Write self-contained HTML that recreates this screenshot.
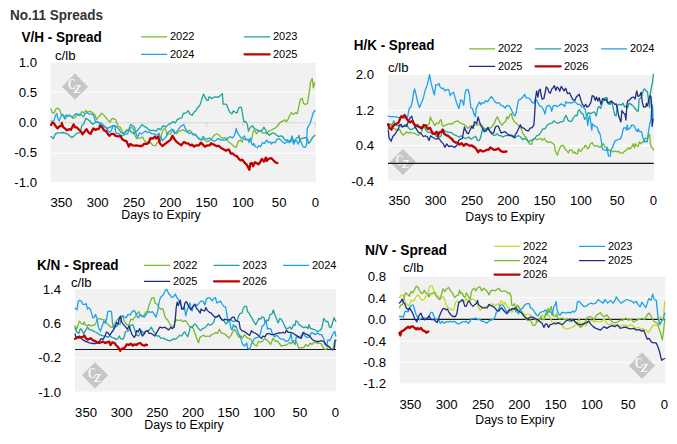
<!DOCTYPE html>
<html><head><meta charset="utf-8"><title>No.11 Spreads</title>
<style>
html,body{margin:0;padding:0;background:#fff;}
body{width:677px;height:444px;overflow:hidden;font-family:"Liberation Sans",sans-serif;}
svg{display:block;}
text{font-family:"Liberation Sans",sans-serif;fill:#000;}
.t{font-size:14px;font-weight:bold;}
.a{font-size:13.2px;}
.l{font-size:11px;}
.ln{fill:none;stroke-linejoin:round;stroke-linecap:round;}
</style></head><body>
<svg width="677" height="444" viewBox="0 0 677 444">
<rect width="677" height="444" fill="#fff"/>
<text x="10" y="19.7" textLength="93" lengthAdjust="spacingAndGlyphs" style="font-size:14px;font-weight:bold;fill:#333">No.11 Spreads</text>

<!-- vh -->
<rect x="50.7" y="63" width="265.0" height="119" fill="#f1f1f1"/>
<line x1="50.7" x2="315.7" y1="92.3" y2="92.3" stroke="#fff" stroke-width="1.1"/>
<line x1="50.7" x2="315.7" y1="153.3" y2="153.3" stroke="#fff" stroke-width="1.1"/>
<line x1="50.7" x2="315.7" y1="122.8" y2="122.8" stroke="#d6d6d6" stroke-width="1.1"/>
<line x1="315.5" x2="315.5" y1="122.8" y2="127.3" stroke="#d6d6d6" stroke-width="1.1"/>
<line x1="279.2" x2="279.2" y1="122.8" y2="127.3" stroke="#d6d6d6" stroke-width="1.1"/>
<line x1="242.9" x2="242.9" y1="122.8" y2="127.3" stroke="#d6d6d6" stroke-width="1.1"/>
<line x1="206.6" x2="206.6" y1="122.8" y2="127.3" stroke="#d6d6d6" stroke-width="1.1"/>
<line x1="170.3" x2="170.3" y1="122.8" y2="127.3" stroke="#d6d6d6" stroke-width="1.1"/>
<line x1="134.0" x2="134.0" y1="122.8" y2="127.3" stroke="#d6d6d6" stroke-width="1.1"/>
<line x1="97.7" x2="97.7" y1="122.8" y2="127.3" stroke="#d6d6d6" stroke-width="1.1"/>
<line x1="61.4" x2="61.4" y1="122.8" y2="127.3" stroke="#d6d6d6" stroke-width="1.1"/>
<g><polygon points="75,73.60000000000001 88.1,86.7 75,99.8 61.9,86.7" fill="#c6c6c6"/><text x="71.7" y="89.2" text-anchor="middle" style="font-family:'Liberation Serif',serif;font-size:15px;font-weight:bold;fill:#fafafa" textLength="7.6" lengthAdjust="spacingAndGlyphs">C</text><text x="77.6" y="93.10000000000001" text-anchor="middle" style="font-family:'Liberation Serif',serif;font-size:11.5px;font-style:italic;font-weight:bold;fill:#fafafa">Z</text></g>
<polyline class="ln" stroke="#7ab929" stroke-width="1.3" points="51.0,108.8 52.1,112.6 54.1,113.1 56.1,108.8 57.7,108.0 59.5,109.5 61.2,114.2 62.9,115.6 64.9,118.9 66.9,116.9 68.9,114.9 71.0,116.2 73.0,118.3 75.0,117.6 77.1,114.9 79.8,115.6 81.8,111.5 83.8,112.9 85.8,110.4 87.9,112.2 90.2,111.2 92.6,112.9 94.6,114.2 96.6,119.6 99.4,116.2 101.6,113.1 103.4,114.9 105.4,116.9 108.1,120.3 110.2,122.3 111.5,118.9 113.5,118.5 115.6,119.6 116.9,123.0 118.3,126.6 120.3,127.1 122.3,131.8 123.7,133.4 125.7,131.1 127.1,129.8 129.1,130.4 131.1,127.1 133.1,128.4 134.5,134.5 136.5,138.5 137.4,138.5 140.1,137.9 142.8,137.2 144.8,141.2 146.8,142.6 148.9,141.2 150.9,143.3 152.9,145.3 155.6,145.6 157.6,141.9 160.4,141.2 161.7,133.8 163.1,129.8 165.1,128.4 166.4,131.8 167.1,135.2 168.5,133.8 170.5,133.8 172.5,130.4 174.5,132.5 176.6,133.8 179.3,131.1 181.3,130.4 183.3,129.8 185.4,131.1 187.4,132.5 188.7,130.2 190.8,131.1 192.8,134.5 194.8,133.8 196.8,136.5 198.9,139.2 201.6,139.9 204.3,139.2 207.0,141.9 209.0,140.6 211.0,139.9 213.1,136.5 215.1,134.5 217.1,133.8 219.1,135.2 221.2,137.9 226.1,138.0 228.1,141.4 230.8,143.4 233.5,146.1 236.2,147.4 238.2,141.4 240.3,140.0 242.3,142.0 243.6,138.6 245.7,140.0 247.7,139.3 249.7,140.7 251.8,139.3 253.1,131.9 254.5,129.9 256.5,133.9 258.5,131.2 260.5,130.5 262.6,133.2 264.6,132.6 266.6,133.9 268.6,131.2 270.7,130.5 272.7,129.2 274.7,128.5 276.8,126.5 278.8,123.8 280.8,121.8 282.8,121.1 284.9,119.7 286.2,121.8 287.6,120.4 288.9,117.0 290.0,115.0 291.3,112.6 293.3,114.6 295.3,112.6 297.4,113.6 298.4,108.5 300.4,99.4 302.4,98.4 303.4,103.4 305.5,104.5 307.5,103.4 308.5,96.4 309.5,90.3 310.5,82.2 312.2,78.5 313.4,87.8 314.6,82.6"/>
<polyline class="ln" stroke="#1ba39c" stroke-width="1.3" points="51.0,136.5 53.4,138.5 55.4,133.8 57.5,132.9 60.2,132.9 62.9,132.5 65.6,133.1 68.3,134.5 70.3,136.5 72.1,137.6 74.4,135.8 76.4,133.4 79.1,132.9 80.4,131.8 81.8,125.7 83.8,123.7 85.8,118.3 87.9,119.6 89.9,121.0 92.6,124.4 94.6,123.0 96.6,121.6 98.7,122.3 100.7,125.0 103.4,125.0 105.4,127.1 107.5,128.4 110.2,127.1 112.9,125.7 114.9,125.7 116.9,127.1 118.9,129.1 121.0,132.5 123.0,133.8 125.0,132.5 127.1,130.4 129.1,129.8 131.1,131.8 133.8,133.8 135.8,131.8 137.4,130.4 140.1,127.1 142.1,124.4 144.1,126.4 146.8,127.7 148.9,129.8 150.9,130.4 153.6,130.4 156.3,131.1 158.3,128.4 160.4,129.8 163.1,125.7 165.8,127.1 168.5,124.4 171.2,123.0 173.2,121.6 175.2,123.0 177.2,119.6 179.9,118.3 182.0,117.6 183.3,113.5 186.0,112.9 188.1,110.8 190.1,114.2 192.1,115.3 194.1,112.2 196.2,110.2 197.5,107.5 199.5,106.1 200.9,102.1 202.2,98.0 203.5,94.1 204.9,96.8 206.9,100.4 208.2,100.4 208.9,96.8 210.3,97.4 211.6,98.8 213.6,97.4 215.7,96.8 217.7,97.4 219.7,96.1 221.8,94.1 222.4,93.6 223.1,104.2 225.8,104.2 226.8,104.9 228.5,109.6 229.9,112.3 231.9,113.9 233.2,110.9 235.3,112.3 237.0,113.0 238.6,108.2 240.0,107.2 241.4,107.6 242.7,115.0 243.8,121.8 245.7,121.5 247.4,124.5 248.4,131.2 250.4,127.2 252.4,125.8 254.5,128.5 257.2,129.9 259.2,131.2 261.9,130.5 263.9,127.2 265.9,130.5 267.3,133.2 269.3,135.3 272.0,133.2 274.1,133.2 276.8,135.3 278.8,136.6 280.8,135.9 282.8,136.6 284.9,140.0 287.6,140.0 289.6,141.4 291.6,138.6 292.3,136.6 293.6,144.1 295.0,141.4 296.4,138.0 298.4,137.3 299.1,135.3 299.7,142.0 301.1,138.6 303.8,138.0 306.5,137.3 307.8,140.0 308.5,143.4 310.0,142.0 310.5,140.9 313.0,136.9 315.0,135.3"/>
<polyline class="ln" stroke="#1aa3e8" stroke-width="1.3" points="51.0,121.0 52.7,121.6 54.1,120.3 55.4,115.6 56.8,113.5 57.7,118.3 59.1,121.0 60.4,117.6 62.2,114.2 63.9,115.6 64.9,118.9 66.2,114.9 68.3,116.2 70.3,115.6 72.3,117.6 74.4,114.9 76.4,113.5 78.4,114.9 79.8,114.2 81.5,114.9 83.4,116.9 85.2,113.5 87.2,112.6 89.2,114.2 91.2,114.2 93.3,114.9 94.6,118.3 95.6,122.3 97.3,121.6 99.4,123.0 101.4,123.0 103.4,126.4 105.4,127.1 107.5,129.8 109.5,132.5 111.5,130.4 112.9,125.7 114.9,126.4 115.6,131.8 116.9,133.8 118.3,133.1 119.6,134.5 121.6,135.8 123.7,135.2 125.7,133.8 127.7,133.8 129.1,128.4 130.7,124.4 132.5,125.7 134.5,127.1 135.8,133.1 137.4,137.2 139.4,133.1 141.4,133.8 143.5,132.5 145.5,131.1 147.5,132.5 149.5,131.8 151.6,133.8 153.6,133.8 155.6,134.5 157.6,135.2 159.0,133.1 160.4,137.2 162.4,140.6 164.4,138.5 166.4,136.5 167.8,132.5 169.8,131.1 171.8,129.1 173.9,130.4 174.5,133.8 176.6,131.8 178.6,129.1 180.6,126.4 182.0,125.7 183.7,124.4 185.4,128.4 187.4,131.8 189.4,133.8 191.4,132.5 193.5,135.2 195.5,134.5 197.5,137.2 200.2,139.2 201.6,139.9 202.9,136.5 204.9,138.5 207.0,139.2 209.7,137.9 211.7,139.9 213.7,141.2 215.8,140.6 217.8,138.5 220.5,139.9 226.1,140.0 228.1,138.0 230.1,136.6 232.2,138.0 234.2,135.9 235.5,131.9 236.2,128.5 237.6,133.2 239.6,135.9 241.6,138.6 244.3,135.9 246.4,140.0 248.4,139.3 249.1,142.7 250.4,138.0 251.8,144.1 253.1,145.4 253.8,143.4 255.4,146.8 257.2,147.8 259.2,145.4 260.5,146.8 262.6,142.7 264.6,143.4 266.6,140.0 268.6,142.7 270.7,142.0 271.4,144.1 273.4,142.0 275.4,142.7 276.8,139.3 278.8,138.6 280.8,140.0 282.8,142.0 284.9,143.4 286.9,141.4 288.9,142.7 290.9,141.4 291.9,135.9 293.0,142.0 295.0,140.0 297.0,141.4 298.1,144.1 299.7,140.7 301.1,142.0 303.1,146.8 305.1,147.4 306.5,145.4 307.2,128.5 308.5,125.8 310.0,123.8 311.6,118.6 313.2,112.6 315.0,110.5"/>
<polyline class="ln" stroke="#c00000" stroke-width="2.3" points="51.0,125.0 52.1,123.0 53.7,123.0 55.4,125.7 57.5,128.4 59.5,126.4 61.5,125.7 61.8,123.0 63.1,127.1 64.9,128.4 66.9,130.4 68.9,129.1 71.0,129.8 72.3,127.1 73.7,124.4 75.0,127.1 77.1,127.7 79.1,129.8 81.1,131.8 82.5,134.2 84.5,131.8 86.5,129.1 88.5,132.5 90.6,133.8 91.9,131.1 93.3,128.4 95.3,129.8 97.3,129.1 99.1,128.8 100.0,125.7 102.1,127.1 104.1,130.4 106.1,131.1 108.1,134.5 109.5,135.8 111.5,133.8 113.5,133.8 115.6,135.8 118.3,136.5 120.3,135.8 122.3,139.2 124.4,140.6 126.4,141.2 127.7,143.9 128.8,146.6 130.4,143.9 132.5,145.3 134.5,145.6 136.7,145.3 139.4,146.0 142.1,146.0 144.1,143.9 146.8,143.9 148.9,142.6 150.2,138.5 152.9,138.5 154.9,136.5 156.3,138.5 158.3,136.5 159.7,143.3 162.4,146.0 165.1,143.9 167.8,141.9 170.5,139.9 172.5,135.8 174.5,139.2 176.6,141.9 179.3,143.9 181.3,145.3 184.0,141.9 186.0,143.3 188.1,143.3 190.1,145.3 192.1,144.6 194.1,146.6 196.2,145.3 198.9,145.3 200.9,142.6 202.9,144.6 204.9,146.6 207.6,145.3 209.7,145.3 211.0,143.3 213.7,144.6 216.4,146.0 219.1,146.0 221.2,148.0 226.1,150.8 226.8,150.1 228.8,149.5 230.8,153.5 232.8,153.5 234.9,155.5 236.9,156.2 238.9,158.9 240.3,160.3 242.3,159.6 244.3,162.3 246.4,164.3 247.7,166.4 249.3,169.7 250.4,163.6 251.8,163.0 253.1,166.4 254.9,162.3 256.5,163.0 258.5,164.3 260.5,161.6 261.9,158.9 263.9,161.6 265.9,157.6 266.6,160.9 268.6,158.9 271.4,158.2 273.4,160.3 275.4,162.3 277.4,163.0"/>
<text class="a" x="37" y="66.5" text-anchor="end">1.0</text>
<text class="a" x="37" y="96.5" text-anchor="end">0.5</text>
<text class="a" x="37" y="126.5" text-anchor="end">0.0</text>
<text class="a" x="37" y="156.5" text-anchor="end">-0.5</text>
<text class="a" x="37" y="186.5" text-anchor="end">-1.0</text>
<text class="a" x="315.5" y="207" text-anchor="middle">0</text>
<text class="a" x="279.2" y="207" text-anchor="middle">50</text>
<text class="a" x="242.9" y="207" text-anchor="middle">100</text>
<text class="a" x="206.6" y="207" text-anchor="middle">150</text>
<text class="a" x="170.3" y="207" text-anchor="middle">200</text>
<text class="a" x="134.0" y="207" text-anchor="middle">250</text>
<text class="a" x="97.7" y="207" text-anchor="middle">300</text>
<text class="a" x="61.4" y="207" text-anchor="middle">350</text>
<text class="l" x="161" y="219" text-anchor="middle" style="font-size:12.3px">Days to Expiry</text>
<text class="t" x="21.4" y="42" textLength="80.4" lengthAdjust="spacingAndGlyphs">V/H - Spread</text>
<text class="a" x="55" y="59.5">c/lb</text>
<line x1="141.5" x2="166.7" y1="36.8" y2="36.8" stroke="#7ab929" stroke-width="1.35" stroke-linecap="round"/>
<text class="l" x="170" y="40.0">2022</text>
<line x1="244.5" x2="269.7" y1="36.8" y2="36.8" stroke="#1ba39c" stroke-width="1.35" stroke-linecap="round"/>
<text class="l" x="273" y="40.0">2023</text>
<line x1="141.5" x2="166.7" y1="54.3" y2="54.3" stroke="#1aa3e8" stroke-width="1.35" stroke-linecap="round"/>
<text class="l" x="170" y="57.5">2024</text>
<line x1="244.5" x2="269.7" y1="54.3" y2="54.3" stroke="#c00000" stroke-width="2.2" stroke-linecap="round"/>
<text class="l" x="273" y="57.5">2025</text>
<!-- hk -->
<rect x="388" y="75" width="265.79999999999995" height="105.69999999999999" fill="#f1f1f1"/>
<line x1="388" x2="653.8" y1="110.2" y2="110.2" stroke="#fff" stroke-width="1.1"/>
<line x1="388" x2="653.8" y1="145.5" y2="145.5" stroke="#fff" stroke-width="1.1"/>
<g><polygon points="402.9,148.9 416.0,162 402.9,175.1 389.79999999999995,162" fill="#c6c6c6"/><text x="399.59999999999997" y="164.5" text-anchor="middle" style="font-family:'Liberation Serif',serif;font-size:15px;font-weight:bold;fill:#fafafa" textLength="7.6" lengthAdjust="spacingAndGlyphs">C</text><text x="405.5" y="168.4" text-anchor="middle" style="font-family:'Liberation Serif',serif;font-size:11.5px;font-style:italic;font-weight:bold;fill:#fafafa">Z</text></g>
<line x1="388" x2="653.8" y1="163.4" y2="163.4" stroke="#1a1a1a" stroke-width="1.2"/>
<polyline class="ln" stroke="#7ab929" stroke-width="1.3" points="388.0,124.3 389.4,123.6 391.4,126.4 394.1,128.4 396.1,129.7 398.2,129.1 400.2,130.4 401.5,133.1 402.9,135.1 404.9,133.8 406.3,131.8 408.3,133.1 410.3,132.4 412.4,133.1 414.4,133.1 416.4,134.5 418.4,135.4 419.8,133.8 421.4,132.4 422.5,128.4 423.8,127.0 425.9,125.0 427.9,125.0 429.2,123.6 430.3,116.9 431.7,120.3 433.3,122.3 434.6,125.7 436.7,123.0 438.7,123.6 440.1,120.3 441.1,119.6 442.1,125.0 443.4,126.4 445.5,125.0 447.5,124.3 450.2,123.6 452.2,124.1 453.6,122.3 455.6,121.6 457.6,120.9 459.6,122.3 461.7,123.6 463.7,124.3 465.7,125.7 467.8,128.4 469.8,126.4 472.5,125.7 474.5,125.0 476.1,124.9 478.1,124.9 480.1,124.2 482.1,125.5 484.2,128.2 486.2,128.9 488.2,127.6 490.2,128.2 492.3,126.2 494.3,123.5 496.1,118.8 497.4,116.8 498.8,120.1 500.4,122.8 502.0,125.5 503.8,122.8 505.5,121.5 506.9,116.8 508.2,118.8 509.6,115.4 511.2,113.4 512.5,118.1 514.2,121.5 515.9,122.8 517.9,124.9 520.0,126.9 521.3,128.9 522.7,133.0 524.7,136.4 526.1,137.0 528.1,141.8 529.4,143.8 531.5,144.5 532.8,140.4 534.8,138.4 536.9,139.7 538.9,139.1 540.9,138.4 542.3,140.4 544.3,138.4 546.3,141.1 548.4,142.4 550.4,141.8 552.4,143.1 554.4,145.0 555.3,151.1 556.7,153.8 557.6,155.2 558.9,150.2 560.7,146.2 562.1,145.3 563.4,145.7 564.8,148.4 566.6,150.7 568.4,152.9 569.7,149.8 572.0,150.2 573.3,152.9 574.7,152.0 576.0,153.8 577.4,153.8 578.6,148.9 579.6,151.1 581.0,151.1 582.8,148.4 584.1,148.0 585.0,145.3 586.4,146.2 587.7,148.9 589.1,147.5 590.0,144.4 591.4,143.0 592.3,142.6 593.6,145.3 595.0,146.2 596.8,145.7 598.6,146.6 600.0,147.1 600.3,147.2 602.3,144.5 603.6,143.8 605.0,147.2 607.0,147.8 609.1,150.5 611.1,150.5 613.1,151.9 615.1,151.2 617.2,151.9 618.5,151.2 620.5,153.2 622.6,153.2 624.6,151.2 626.6,149.9 628.6,147.8 630.0,149.2 631.4,147.2 633.4,143.8 634.3,147.8 635.4,143.8 636.8,145.8 638.1,146.5 639.5,141.8 640.5,143.8 642.2,142.4 644.2,141.1 645.5,137.7 646.9,139.1 648.2,137.0 649.6,134.3 650.3,143.8 651.6,147.2 653.6,149.9"/>
<polyline class="ln" stroke="#1ba39c" stroke-width="1.3" points="388.0,130.4 389.4,124.3 391.4,125.0 392.8,123.0 393.8,120.9 394.8,125.0 396.8,125.7 398.8,125.0 400.9,126.4 402.9,127.0 404.9,125.0 406.9,124.3 408.3,127.7 410.3,129.5 412.4,129.1 414.4,127.7 415.7,125.0 417.8,124.3 419.1,127.0 421.1,129.1 423.2,127.7 424.5,127.0 425.9,130.4 427.9,132.4 430.6,132.4 432.6,134.5 434.6,133.8 436.3,136.5 438.0,136.5 439.4,137.2 441.1,135.8 442.1,129.1 444.1,130.4 446.1,131.8 448.2,132.4 450.9,132.4 452.9,133.8 454.9,135.1 456.9,135.8 459.0,137.2 461.0,135.8 463.0,137.2 465.1,138.5 467.1,137.8 469.1,137.2 471.1,139.2 473.2,137.8 474.0,137.0 475.8,136.4 477.4,140.4 479.4,140.4 480.8,137.0 482.1,130.3 483.5,128.9 485.5,130.3 487.5,128.2 489.6,130.9 491.6,132.3 493.6,135.7 495.6,135.0 497.0,133.6 499.0,135.7 501.1,135.7 503.1,137.0 505.1,135.7 507.1,135.7 509.2,134.3 511.2,135.0 513.2,135.7 515.0,137.7 516.6,136.4 518.6,135.7 520.6,137.0 522.7,139.7 524.7,138.4 526.7,139.7 528.8,141.8 530.8,140.4 532.8,139.7 534.8,138.4 536.9,135.7 538.9,135.0 540.9,132.3 542.9,128.9 545.0,128.9 547.0,125.5 548.4,124.2 550.4,123.5 552.4,122.8 553.8,120.8 555.8,122.2 557.8,123.5 559.8,122.2 563.4,121.3 564.8,117.3 566.1,115.5 567.9,120.0 569.5,121.3 571.5,121.3 573.3,117.9 575.6,115.2 576.9,115.9 578.3,110.5 579.6,109.8 581.4,113.2 583.0,113.9 584.6,119.3 586.4,117.3 588.4,112.5 590.5,113.9 592.5,112.5 594.5,111.9 596.3,115.9 597.9,107.8 599.2,106.5 600.6,108.5 602.6,102.4 604.0,98.4 605.3,97.7 607.1,97.7 608.0,103.8 610.1,104.4 611.7,101.1 613.4,109.2 614.8,115.2 616.1,115.9 617.5,105.1 619.5,104.4 621.5,105.1 622.9,103.1 624.6,107.1 626.3,105.8 627.6,107.8 629.0,103.1 631.0,104.4 633.0,105.8 635.1,108.5 637.1,111.2 638.2,111.2 639.1,99.0 640.5,98.4 641.8,95.6 643.6,89.6 644.5,88.9 646.0,90.9 647.4,91.7 648.7,101.9 649.5,107.5 650.3,94.1 651.5,86.9 652.6,82.2 653.4,74.3"/>
<polyline class="ln" stroke="#1aa3e8" stroke-width="1.3" points="388.0,116.0 390.1,116.6 392.8,116.6 395.5,116.9 398.2,117.3 400.9,118.0 403.6,118.0 406.3,117.7 407.6,116.9 409.2,108.5 411.0,106.5 412.4,101.1 413.7,91.6 414.6,88.9 416.0,94.4 417.8,102.5 419.5,107.5 421.4,103.1 423.2,98.4 425.2,90.3 427.2,84.9 428.6,79.5 429.5,74.5 430.9,82.2 432.6,88.9 434.4,95.0 435.7,84.9 438.0,84.9 439.0,83.5 440.1,86.9 442.1,88.9 443.4,88.0 444.8,91.0 446.8,89.6 448.8,89.6 450.2,95.7 451.5,93.7 453.6,92.3 454.9,97.1 456.9,103.8 459.0,108.5 460.6,99.8 462.4,101.1 463.7,105.2 465.1,93.0 466.4,89.6 468.2,89.6 469.5,95.0 470.9,107.9 472.5,108.5 474.1,114.6 474.4,114.1 475.4,116.8 476.1,108.6 477.7,105.3 479.4,101.9 480.8,104.6 482.1,102.6 484.2,103.2 485.5,100.5 487.5,101.9 489.3,99.2 491.2,96.5 492.9,98.5 495.0,101.9 497.0,103.2 499.0,102.6 501.1,105.3 503.1,105.9 505.1,108.0 507.1,105.3 509.2,105.9 511.2,109.3 513.2,114.1 515.0,116.1 516.3,112.0 517.3,105.9 518.6,99.9 520.6,99.2 522.7,97.2 524.7,94.5 526.1,97.8 528.1,97.8 530.1,99.2 532.1,102.6 534.2,103.2 535.5,98.5 537.5,101.9 539.6,105.9 541.6,106.6 543.6,110.0 545.0,114.1 546.3,107.3 548.4,105.3 550.4,106.6 551.7,111.4 553.1,105.9 555.1,105.3 557.1,106.6 559.2,105.3 561.2,103.9 563.4,105.1 564.8,106.5 565.7,101.7 567.5,103.1 569.5,102.4 571.5,103.1 573.6,101.7 575.6,102.4 577.6,104.4 579.6,104.4 581.7,106.5 583.7,107.8 585.1,109.2 586.4,115.2 587.8,125.4 588.7,117.9 589.8,115.9 590.9,123.4 591.8,130.1 592.5,124.0 593.8,125.4 595.9,126.7 597.2,127.4 598.6,132.0 598.9,131.6 600.3,135.0 601.6,142.4 602.3,149.2 604.3,149.9 606.4,150.5 607.0,147.2 608.4,155.9 610.4,156.2 610.8,149.9 612.4,147.8 613.8,143.8 615.4,140.4 617.2,140.0 619.2,139.1 620.5,139.1 621.9,135.0 623.5,128.2 625.3,127.6 626.6,130.0 627.3,124.9 628.0,129.6 630.0,128.2 632.0,124.9 634.1,125.5 636.1,130.3 637.4,131.6 638.1,128.9 639.5,131.6 641.5,131.6 642.8,137.0 644.2,141.8 646.2,141.4 647.3,141.8 648.2,133.6 649.6,124.9 650.9,119.5 651.5,110.6 652.0,104.6 652.6,105.9 653.1,118.5"/>
<polyline class="ln" stroke="#1f2c8a" stroke-width="1.3" points="388.4,131.1 389.0,137.8 391.1,141.2 392.8,136.5 394.8,134.5 396.8,131.1 398.2,129.7 399.5,125.0 401.1,124.3 402.2,127.0 404.2,125.7 406.3,126.4 407.6,123.6 409.0,120.3 410.3,117.6 411.7,116.2 412.8,120.3 413.7,123.0 415.1,127.0 416.4,129.1 418.4,132.4 420.5,133.1 421.8,134.5 423.2,136.5 425.2,135.8 427.2,136.5 429.0,140.5 430.6,135.8 432.6,137.2 434.6,138.5 436.7,139.2 438.0,137.8 439.4,139.2 441.4,141.9 443.4,143.9 444.8,147.3 446.8,143.9 448.8,146.6 450.9,145.9 452.9,146.6 454.9,147.3 456.9,145.3 458.7,140.5 460.3,139.2 462.4,138.5 463.3,133.1 464.4,127.0 465.7,130.4 467.1,133.1 468.4,133.8 470.5,129.1 471.8,126.4 473.2,128.4 474.5,121.6 475.0,122.2 476.7,123.5 478.1,116.8 479.4,121.5 480.8,125.5 482.8,128.9 484.2,131.6 486.2,130.9 487.9,127.6 489.6,130.9 491.6,133.6 493.6,133.0 495.0,128.2 496.3,126.2 498.4,126.2 499.7,129.6 501.1,133.0 503.1,132.3 505.1,131.6 507.1,133.6 509.2,135.7 511.2,135.7 512.5,136.4 514.2,137.7 515.5,134.3 517.3,131.6 519.3,126.9 520.4,124.9 521.7,127.6 524.0,128.2 526.1,130.3 528.5,130.9 530.1,128.2 532.1,127.6 533.9,124.9 534.8,112.0 535.5,98.5 536.6,91.1 537.9,97.2 538.9,90.4 540.2,89.1 541.2,95.8 542.3,99.2 543.9,98.5 545.0,93.1 546.3,87.0 547.7,88.4 549.0,92.4 550.4,93.1 551.7,89.1 553.1,87.7 554.4,85.7 555.8,90.4 557.1,87.0 558.5,88.4 559.8,91.1 561.2,86.4 562.8,88.9 564.1,90.9 565.7,88.2 567.5,93.6 569.5,92.9 571.5,97.0 572.9,99.7 574.9,100.4 576.3,97.0 578.3,95.0 579.2,94.3 581.0,100.4 582.4,104.4 584.4,106.5 585.7,104.4 587.1,107.1 589.1,105.8 590.9,102.4 592.2,95.6 593.8,96.3 595.2,100.4 596.5,97.0 597.9,101.1 599.2,97.7 600.9,104.4 602.6,98.4 604.6,100.4 606.0,99.0 607.4,102.4 609.0,103.1 610.7,101.1 612.8,102.4 614.8,104.4 616.1,103.8 617.5,109.2 618.8,116.6 620.9,122.0 621.9,110.5 623.6,113.2 624.9,113.9 625.9,120.0 626.9,105.1 627.6,101.1 629.6,99.7 631.7,97.7 633.7,97.0 635.1,99.0 636.7,90.9 638.0,96.3 639.8,95.6 641.1,92.3 642.5,103.1 643.6,107.1 646.0,106.5 646.3,103.5 647.4,105.9 649.0,98.8 649.9,95.6 651.1,97.2 651.5,105.9 652.2,126.4 653.1,119.3"/>
<polyline class="ln" stroke="#c00000" stroke-width="2.3" points="388.0,124.3 389.4,127.7 391.4,129.7 392.8,126.4 394.8,124.3 396.8,123.6 398.8,122.3 400.2,118.2 401.5,116.2 402.9,116.9 404.6,114.9 406.3,118.2 408.3,120.9 410.3,122.3 412.4,120.9 413.7,123.6 415.7,125.7 417.8,126.4 419.8,127.0 421.8,128.4 423.8,125.0 425.9,125.7 427.9,129.1 429.9,127.7 431.3,130.4 432.6,133.1 434.6,133.8 436.7,131.8 438.0,135.8 439.4,132.4 441.4,131.8 442.8,129.7 444.1,133.8 446.1,135.1 448.2,135.8 450.2,137.8 451.5,138.5 453.6,141.2 455.6,142.6 457.6,142.6 459.6,144.6 461.7,143.2 463.7,145.9 465.7,143.9 467.8,144.6 469.8,145.9 471.8,145.3 473.8,147.3 474.1,146.8 476.1,148.8 478.1,152.2 480.1,150.1 482.8,151.5 484.9,150.8 486.9,149.9 488.9,149.5 490.3,147.4 492.3,148.8 494.3,149.9 496.4,149.5 498.4,148.5 499.7,150.1 501.8,151.5 503.8,151.8 506.5,151.5"/>
<text class="a" x="374" y="79.0" text-anchor="end">2.0</text>
<text class="a" x="374" y="114.5" text-anchor="end">1.2</text>
<text class="a" x="374" y="150.0" text-anchor="end">0.4</text>
<text class="a" x="374" y="185.5" text-anchor="end">-0.4</text>
<text class="a" x="653.5" y="205" text-anchor="middle">0</text>
<text class="a" x="617.2" y="205" text-anchor="middle">50</text>
<text class="a" x="580.9" y="205" text-anchor="middle">100</text>
<text class="a" x="544.6" y="205" text-anchor="middle">150</text>
<text class="a" x="508.3" y="205" text-anchor="middle">200</text>
<text class="a" x="472.0" y="205" text-anchor="middle">250</text>
<text class="a" x="435.7" y="205" text-anchor="middle">300</text>
<text class="a" x="399.4" y="205" text-anchor="middle">350</text>
<text class="l" x="505" y="221" text-anchor="middle" style="font-size:12.3px">Days to Expiry</text>
<text class="t" x="353.8" y="50" textLength="80.6" lengthAdjust="spacingAndGlyphs">H/K - Spread</text>
<text class="a" x="388" y="72">c/lb</text>
<line x1="469.5" x2="494.7" y1="48.8" y2="48.8" stroke="#7ab929" stroke-width="1.35" stroke-linecap="round"/>
<text class="l" x="498" y="52.0">2022</text>
<line x1="535.5" x2="560.7" y1="48.8" y2="48.8" stroke="#1ba39c" stroke-width="1.35" stroke-linecap="round"/>
<text class="l" x="564" y="52.0">2023</text>
<line x1="601.5" x2="626.7" y1="48.8" y2="48.8" stroke="#1aa3e8" stroke-width="1.35" stroke-linecap="round"/>
<text class="l" x="630" y="52.0">2024</text>
<line x1="469.5" x2="494.7" y1="66.3" y2="66.3" stroke="#1f2c8a" stroke-width="1.35" stroke-linecap="round"/>
<text class="l" x="498" y="69.5">2025</text>
<line x1="535.5" x2="560.7" y1="66.3" y2="66.3" stroke="#c00000" stroke-width="2.2" stroke-linecap="round"/>
<text class="l" x="564" y="69.5">2026</text>
<!-- kn -->
<rect x="75" y="289" width="261" height="102.5" fill="#f1f1f1"/>
<line x1="75" x2="336" y1="323.2" y2="323.2" stroke="#fff" stroke-width="1.1"/>
<line x1="75" x2="336" y1="357.8" y2="357.8" stroke="#fff" stroke-width="1.1"/>
<g><polygon points="95,362.2 108.1,375.3 95,388.40000000000003 81.9,375.3" fill="#c6c6c6"/><text x="91.7" y="377.8" text-anchor="middle" style="font-family:'Liberation Serif',serif;font-size:15px;font-weight:bold;fill:#fafafa" textLength="7.6" lengthAdjust="spacingAndGlyphs">C</text><text x="97.6" y="381.7" text-anchor="middle" style="font-family:'Liberation Serif',serif;font-size:11.5px;font-style:italic;font-weight:bold;fill:#fafafa">Z</text></g>
<line x1="75" x2="336" y1="349.5" y2="349.5" stroke="#1a1a1a" stroke-width="1.2"/>
<polyline class="ln" stroke="#7ab929" stroke-width="1.3" points="75.0,325.9 76.7,329.3 78.1,324.5 79.4,321.2 81.5,323.9 83.1,324.5 84.2,321.8 85.5,325.2 87.5,325.9 88.9,324.5 90.9,325.9 93.6,325.2 95.6,323.9 97.0,319.8 99.0,318.5 101.1,319.1 103.1,319.8 105.1,319.8 106.5,323.2 108.5,324.5 110.5,327.2 112.5,327.2 114.6,323.9 116.6,320.5 118.6,318.5 120.6,315.8 122.7,315.8 124.0,320.5 126.1,323.9 128.1,325.2 129.4,323.9 130.8,319.1 132.8,319.8 134.8,317.1 136.9,313.7 138.9,311.7 140.2,315.1 142.3,316.4 144.3,315.1 145.6,312.4 147.7,311.0 149.0,304.9 150.4,301.6 151.7,298.2 153.8,297.5 155.1,302.9 157.1,304.3 159.2,307.6 160.5,309.0 163.1,309.0 164.1,313.1 165.4,317.8 167.5,319.8 168.8,322.5 170.2,324.5 172.2,327.2 173.5,327.2 174.9,321.2 176.9,319.8 178.9,320.5 181.0,319.8 183.0,321.8 185.0,320.5 187.1,322.5 189.1,325.9 190.4,327.2 192.5,327.2 193.8,329.9 195.2,334.0 197.2,339.4 198.5,342.8 199.9,337.4 201.9,336.0 203.9,335.4 206.0,336.7 208.0,336.0 210.0,336.7 211.4,334.7 213.4,334.0 215.4,332.6 217.5,333.3 219.5,329.3 220.8,332.6 222.9,333.3 224.9,334.0 226.9,336.0 228.9,338.1 231.0,335.4 233.0,331.3 234.4,329.3 235.7,331.3 237.7,335.4 239.1,337.4 241.1,336.0 242.5,338.1 244.5,334.7 246.5,337.4 248.3,338.4 250.6,339.2 252.9,343.0 255.2,345.3 256.7,346.1 258.3,341.5 260.6,342.2 262.9,340.7 264.4,338.4 266.7,339.9 269.0,342.2 270.6,344.5 272.1,340.7 273.2,338.4 275.2,341.5 276.7,340.7 279.0,343.0 281.3,346.1 283.6,345.3 285.9,345.3 288.2,343.8 289.8,342.2 291.3,343.8 293.6,340.7 295.9,340.7 297.4,344.5 299.0,348.4 301.3,347.6 303.6,347.6 305.9,344.5 308.2,346.1 310.5,343.0 312.0,344.5 314.3,342.2 316.6,343.0 319.0,343.0 321.3,343.8 322.8,346.9 324.3,349.2 326.6,349.2 328.9,346.1 331.2,349.2 333.1,349.2 334.3,342.2 335.1,339.9"/>
<polyline class="ln" stroke="#1ba39c" stroke-width="1.3" points="75.0,327.9 76.7,332.0 78.8,333.3 80.4,328.6 82.1,330.6 83.5,334.0 85.5,330.6 87.5,327.2 89.6,329.9 91.6,329.9 93.6,331.3 95.6,332.0 97.7,333.3 99.7,334.7 101.7,335.4 103.8,336.0 105.8,336.0 107.8,337.4 109.8,336.0 111.9,337.4 113.9,338.1 115.9,339.4 117.9,338.7 119.3,336.0 120.6,338.7 122.7,339.4 124.0,337.4 125.4,332.0 126.7,331.3 128.8,330.6 130.1,325.9 131.5,325.2 132.8,324.5 134.2,328.6 135.5,332.0 136.9,335.4 138.5,336.0 139.6,334.0 141.6,330.6 143.6,333.3 145.6,331.3 147.7,330.6 149.7,329.9 151.1,327.2 153.1,330.6 155.1,333.3 157.1,336.0 159.2,336.0 160.5,338.1 163.4,338.1 165.4,339.4 167.5,340.1 169.5,340.8 171.5,340.1 173.5,338.7 175.6,339.4 177.6,337.4 179.6,335.4 181.6,336.0 183.7,332.6 185.0,332.0 186.4,334.7 187.7,336.7 188.8,333.3 190.4,326.6 192.5,327.2 193.8,324.5 195.2,323.9 197.2,326.6 199.2,329.3 200.6,330.6 202.6,328.6 204.6,327.9 206.6,325.9 208.0,323.9 210.0,325.2 212.1,323.9 213.7,322.5 214.8,317.8 216.8,317.1 218.8,315.1 220.2,317.1 222.2,319.8 224.2,320.5 225.6,323.9 227.6,322.5 229.6,319.8 231.6,320.5 233.7,321.8 235.7,320.5 237.1,321.2 238.4,316.4 239.8,313.7 241.8,313.1 243.1,309.0 244.5,306.3 246.5,306.3 247.5,311.7 248.6,312.3 250.6,316.1 252.1,318.4 253.7,321.5 255.7,324.6 257.5,321.5 258.7,318.4 260.6,319.2 262.1,316.9 264.0,317.7 265.2,322.3 266.7,320.0 268.3,320.7 270.1,314.6 272.1,313.8 273.3,310.0 275.2,315.4 276.7,319.2 278.2,323.0 279.8,318.4 281.3,319.2 282.9,322.3 284.4,325.3 285.9,328.4 288.2,328.4 289.8,326.9 291.6,329.2 293.6,324.6 295.1,325.3 295.9,320.7 297.4,321.5 299.0,324.6 301.3,326.1 303.6,327.7 305.9,326.9 308.2,328.4 309.0,324.6 310.5,328.4 312.8,329.2 315.1,330.0 317.4,331.5 319.7,330.7 321.7,328.4 322.8,323.0 323.9,318.4 325.9,321.5 327.9,321.5 329.4,326.9 330.9,327.7 332.5,323.0 334.0,317.7 335.9,321.5"/>
<polyline class="ln" stroke="#1aa3e8" stroke-width="1.3" points="75.0,308.3 77.1,309.7 78.1,301.6 79.8,300.2 81.5,301.6 82.8,304.3 84.8,304.3 86.2,303.6 87.5,309.0 88.9,307.6 90.2,309.0 91.6,313.1 92.9,317.8 94.3,317.1 95.6,314.4 97.0,318.5 98.4,327.2 100.4,331.3 101.7,327.2 103.8,321.2 105.1,323.2 106.5,319.8 107.8,311.7 109.8,311.0 111.5,311.7 112.5,323.2 113.6,328.6 115.2,325.2 116.6,326.6 118.6,323.9 120.0,324.5 121.3,317.8 122.7,315.8 124.7,317.1 126.1,317.8 128.1,314.4 130.1,315.1 132.1,311.7 133.9,310.4 135.5,312.4 136.9,315.8 138.2,317.8 140.2,314.4 142.3,316.4 144.3,317.1 146.3,314.4 148.4,311.7 150.4,312.4 152.4,311.7 154.4,314.4 156.1,317.1 157.8,310.4 159.2,301.6 160.5,297.5 163.4,294.8 165.4,290.1 166.8,289.4 168.8,294.1 170.2,294.8 171.5,297.5 173.5,296.8 175.3,294.1 176.9,297.5 178.9,300.2 180.3,304.3 182.3,308.3 184.4,307.0 185.7,315.8 187.1,310.4 188.4,306.3 189.8,302.9 191.1,309.0 192.1,311.0 193.4,306.3 195.2,304.3 197.2,305.6 199.2,302.9 201.2,300.9 203.3,301.6 205.0,304.9 206.4,298.9 208.3,297.5 210.0,298.2 212.1,300.9 214.1,298.2 215.4,297.5 216.8,302.9 218.8,302.2 220.4,300.9 222.2,304.3 223.9,306.3 225.6,307.0 226.9,314.4 228.0,321.8 229.6,320.5 231.0,328.6 232.1,329.9 233.4,324.5 235.0,327.2 236.1,325.9 237.7,331.3 239.1,334.7 240.4,336.7 241.8,342.1 242.5,344.0 244.4,346.1 246.8,343.0 247.5,348.4 249.8,349.2 251.4,343.8 252.9,341.5 254.4,338.4 256.7,337.6 259.0,336.9 260.6,333.0 262.1,326.1 263.7,325.3 266.0,320.7 267.5,329.2 269.0,328.4 271.0,329.2 272.1,333.0 274.4,336.9 276.7,335.3 279.0,337.6 281.3,339.2 283.6,339.2 285.9,341.5 288.2,340.7 289.8,338.4 291.0,333.0 292.1,340.7 294.1,343.0 295.1,344.5 296.2,336.9 298.2,337.6 300.5,336.9 302.8,333.0 305.1,336.1 307.4,337.6 309.4,336.9 311.0,333.0 312.8,333.0 315.1,334.6 317.4,333.0 319.7,334.6 321.7,334.6 323.6,338.4 325.1,344.5 326.6,346.1 327.9,339.9 329.7,340.7 331.6,336.9 333.5,333.0 334.8,331.5 335.9,336.1"/>
<polyline class="ln" stroke="#1f2c8a" stroke-width="1.3" points="75.0,334.0 76.1,337.4 78.1,336.7 79.4,336.0 81.5,338.7 83.5,340.1 85.5,341.4 87.5,342.1 89.6,342.8 92.3,343.5 95.6,343.5 97.7,342.8 99.7,340.8 101.1,338.7 103.1,339.4 105.1,336.0 106.5,332.0 107.8,332.6 109.8,335.4 111.9,332.0 113.9,329.3 115.2,326.6 116.6,322.5 118.2,323.9 119.3,318.5 120.4,316.4 121.7,321.8 123.4,324.5 125.4,326.6 127.4,329.3 129.0,325.9 130.8,331.3 132.1,334.7 134.2,337.4 135.5,335.4 136.6,330.6 138.2,332.0 139.6,328.6 140.9,332.0 142.3,336.0 144.3,334.0 145.6,331.3 147.7,330.6 149.0,333.3 151.1,333.3 153.1,334.7 154.7,336.0 155.8,334.0 157.8,330.6 159.8,327.2 162.7,327.9 164.8,327.2 166.8,328.6 168.8,329.9 170.8,327.2 172.2,328.6 174.2,327.2 175.3,319.1 176.2,307.6 177.2,302.2 178.3,305.6 179.4,301.6 180.3,300.2 181.6,309.0 183.7,309.0 185.0,302.9 186.4,301.6 188.0,304.9 189.8,308.3 191.1,309.7 192.9,306.3 194.8,304.3 196.5,308.3 198.5,310.4 200.2,313.1 201.0,309.0 202.6,310.4 204.6,311.0 206.0,307.6 207.3,310.4 209.4,312.4 211.4,313.1 213.4,315.8 215.4,317.1 217.5,316.4 219.1,315.1 220.8,318.5 222.9,320.5 224.9,319.1 226.9,319.8 228.9,319.8 231.0,319.1 232.3,317.1 233.9,317.1 235.7,320.5 237.7,321.2 239.1,321.8 240.2,328.6 241.8,330.6 243.8,331.3 245.8,332.6 248.3,334.6 249.8,335.3 251.4,330.7 253.2,332.3 255.2,333.0 257.5,334.6 259.8,336.9 261.3,338.4 262.9,336.1 264.9,336.9 266.7,333.8 269.0,333.5 271.3,334.6 273.6,334.6 275.9,333.8 278.2,333.0 280.5,333.0 282.9,332.3 285.2,333.0 286.4,330.0 288.2,332.3 290.5,332.3 292.8,333.0 295.1,334.6 297.4,336.1 299.8,337.6 301.3,338.4 303.3,332.3 305.1,333.8 307.4,334.6 309.7,336.1 312.0,339.2 314.3,340.7 316.6,341.5 319.0,341.5 321.3,340.7 323.6,341.5 325.9,344.5 328.2,346.1 330.5,348.4 332.5,349.9 334.3,349.2 335.1,340.7 335.9,340.2"/>
<polyline class="ln" stroke="#c00000" stroke-width="2.3" points="75.0,338.9 76.7,337.6 78.8,337.6 80.8,337.3 82.8,336.9 84.4,335.5 85.8,338.2 87.5,339.6 89.3,338.9 90.9,338.2 92.9,340.3 95.0,340.9 97.0,342.3 99.0,343.0 101.1,342.3 103.1,341.6 105.1,343.0 107.1,342.3 109.2,341.6 110.5,345.0 112.5,342.3 114.6,343.0 115.9,345.0 117.9,347.0 119.3,349.1 120.2,350.8 121.3,349.1 123.4,348.4 125.4,347.0 126.7,344.3 128.8,345.0 130.8,343.6 132.8,345.7 134.2,344.3 136.2,345.0 138.2,343.6 140.2,343.0 142.3,345.0 144.3,345.7 146.1,344.6 147.0,345.0"/>
<text class="a" x="61" y="293.5" text-anchor="end">1.4</text>
<text class="a" x="61" y="327.5" text-anchor="end">0.6</text>
<text class="a" x="61" y="362.0" text-anchor="end">-0.2</text>
<text class="a" x="61" y="396.5" text-anchor="end">-1.0</text>
<text class="a" x="335.5" y="417" text-anchor="middle">0</text>
<text class="a" x="299.9" y="417" text-anchor="middle">50</text>
<text class="a" x="264.2" y="417" text-anchor="middle">100</text>
<text class="a" x="228.6" y="417" text-anchor="middle">150</text>
<text class="a" x="193.0" y="417" text-anchor="middle">200</text>
<text class="a" x="157.3" y="417" text-anchor="middle">250</text>
<text class="a" x="121.7" y="417" text-anchor="middle">300</text>
<text class="a" x="86.1" y="417" text-anchor="middle">350</text>
<text class="l" x="184" y="429" text-anchor="middle" style="font-size:12.3px">Days to Expiry</text>
<text class="t" x="37" y="270" textLength="81.5" lengthAdjust="spacingAndGlyphs">K/N - Spread</text>
<text class="a" x="71" y="287">c/lb</text>
<line x1="144.5" x2="169.7" y1="265.3" y2="265.3" stroke="#7ab929" stroke-width="1.35" stroke-linecap="round"/>
<text class="l" x="173" y="268.5">2022</text>
<line x1="214.0" x2="239.2" y1="265.3" y2="265.3" stroke="#1ba39c" stroke-width="1.35" stroke-linecap="round"/>
<text class="l" x="242.5" y="268.5">2023</text>
<line x1="283.5" x2="308.7" y1="265.3" y2="265.3" stroke="#1aa3e8" stroke-width="1.35" stroke-linecap="round"/>
<text class="l" x="312" y="268.5">2024</text>
<line x1="144.5" x2="169.7" y1="281.3" y2="281.3" stroke="#1f2c8a" stroke-width="1.35" stroke-linecap="round"/>
<text class="l" x="173" y="284.5">2025</text>
<line x1="214.0" x2="239.2" y1="281.3" y2="281.3" stroke="#c00000" stroke-width="2.2" stroke-linecap="round"/>
<text class="l" x="242.5" y="284.5">2026</text>
<!-- nv -->
<rect x="399.7" y="276.8" width="265.59999999999997" height="106.69999999999999" fill="#f1f1f1"/>
<line x1="399.7" x2="665.3" y1="297.8" y2="297.8" stroke="#fff" stroke-width="1.1"/>
<line x1="399.7" x2="665.3" y1="341" y2="341" stroke="#fff" stroke-width="1.1"/>
<line x1="399.7" x2="665.3" y1="362.3" y2="362.3" stroke="#fff" stroke-width="1.1"/>
<g><polygon points="642,352.59999999999997 655.1,365.7 642,378.8 628.9,365.7" fill="#c6c6c6"/><text x="638.7" y="368.2" text-anchor="middle" style="font-family:'Liberation Serif',serif;font-size:15px;font-weight:bold;fill:#fafafa" textLength="7.6" lengthAdjust="spacingAndGlyphs">C</text><text x="644.6" y="372.09999999999997" text-anchor="middle" style="font-family:'Liberation Serif',serif;font-size:11.5px;font-style:italic;font-weight:bold;fill:#fafafa">Z</text></g>
<line x1="399.7" x2="665.3" y1="319.4" y2="319.4" stroke="#1a1a1a" stroke-width="1.2"/>
<polyline class="ln" stroke="#c5d928" stroke-width="1.3" points="399.4,297.6 401.4,294.9 403.4,294.9 404.8,301.0 406.8,304.4 408.8,305.7 410.2,303.0 411.5,300.3 413.3,301.0 414.9,299.0 416.9,295.6 418.3,294.9 420.3,298.3 422.4,300.3 424.4,299.0 425.7,296.3 427.8,295.6 429.1,288.2 430.1,286.1 432.2,286.1 433.8,290.9 435.2,292.9 436.5,294.9 438.6,296.9 440.6,298.3 442.6,296.9 444.0,297.6 445.3,302.4 447.4,307.1 449.4,308.4 451.4,309.8 453.8,309.8 455.5,302.4 457.5,301.0 458.8,303.0 460.9,301.0 462.9,300.3 464.2,302.4 466.3,298.3 468.3,301.0 470.3,300.3 472.4,299.0 474.4,299.6 476.4,303.0 478.4,306.4 480.1,310.5 481.8,308.4 483.8,307.1 487.4,306.0 488.1,306.4 490.1,305.1 492.1,303.7 494.2,305.1 496.2,305.1 498.2,303.7 499.6,306.4 500.9,301.0 502.3,301.7 503.6,305.1 505.2,302.4 507.0,306.4 509.0,307.8 511.1,309.8 512.0,312.5 513.8,308.4 515.8,309.8 517.4,305.1 519.2,309.1 521.2,310.5 523.2,313.2 525.2,315.2 527.3,313.8 529.3,314.5 531.3,315.9 533.4,317.2 535.4,319.9 537.4,321.9 539.4,320.6 541.2,317.9 542.1,314.5 543.5,316.5 545.2,316.5 546.9,313.2 548.9,315.9 550.9,319.2 552.3,322.6 554.3,322.6 556.3,321.9 558.4,323.3 560.4,322.6 562.4,326.0 564.4,328.0 566.5,329.0 568.5,328.7 570.5,328.0 573.4,326.6 576.1,324.8 577.9,321.1 579.2,319.3 580.6,324.8 583.3,322.9 586.0,325.7 588.7,321.1 591.4,320.2 594.1,322.0 596.8,321.1 599.5,322.0 602.2,321.1 604.0,318.4 605.9,322.0 608.6,324.8 611.3,323.9 614.0,324.8 616.7,325.7 619.4,326.6 622.1,325.7 624.8,324.8 627.5,326.6 630.2,324.8 632.9,325.7 635.6,328.4 638.3,327.5 641.0,328.4 643.7,329.3 646.4,330.2 648.2,332.9 650.6,329.3 652.7,325.7 655.4,324.8 657.2,325.7 659.0,322.0 660.3,316.6 661.7,318.4 663.2,320.2 664.1,309.4 664.8,301.3"/>
<polyline class="ln" stroke="#7ab929" stroke-width="1.3" points="399.4,307.8 400.7,305.1 402.8,304.4 404.1,297.6 405.5,292.9 407.5,294.2 409.5,296.3 410.9,291.5 412.9,292.9 414.2,290.2 416.3,286.1 418.3,287.5 419.6,290.9 421.7,293.6 423.0,292.9 424.4,290.2 425.7,292.9 427.8,294.2 429.1,296.9 430.5,293.6 432.5,293.6 434.5,292.2 435.9,295.6 437.9,298.3 439.9,299.6 441.3,294.9 443.0,288.8 444.6,291.5 446.7,288.8 448.7,287.5 450.7,290.9 452.8,293.6 454.8,297.6 456.8,295.6 458.4,294.9 459.5,290.2 460.9,293.6 462.2,292.9 463.6,296.3 464.9,297.6 466.3,292.9 468.3,296.3 470.1,299.6 471.0,293.6 472.4,289.5 474.4,288.2 475.7,290.9 477.8,287.5 479.8,286.8 481.8,290.9 483.8,288.2 487.4,291.5 489.0,294.9 490.8,290.9 492.8,290.2 494.8,290.9 496.9,289.5 498.9,288.2 500.6,290.9 502.3,291.5 504.3,290.9 506.3,291.5 508.4,293.6 509.7,292.9 511.1,296.3 511.7,305.1 513.1,305.7 514.4,303.7 515.8,311.8 517.1,305.1 518.5,306.4 520.5,309.8 521.9,312.5 523.2,315.2 525.0,317.9 526.6,319.9 528.6,320.6 530.6,319.9 532.7,325.3 534.7,325.3 536.1,323.3 537.4,319.2 538.8,320.6 540.8,316.5 542.1,319.2 544.2,319.9 545.5,313.2 546.9,315.2 548.2,308.4 549.6,311.8 551.2,306.4 552.3,311.8 553.6,315.9 555.6,316.5 556.6,313.8 557.7,317.9 559.7,319.2 561.7,317.9 563.8,319.2 565.8,319.9 567.8,319.2 569.8,321.9 570.7,320.2 572.5,319.3 575.2,322.0 577.9,324.8 580.6,327.5 583.3,324.8 585.1,322.0 586.9,317.5 589.6,316.6 592.3,317.5 594.1,320.2 595.9,315.7 598.6,313.9 600.4,312.7 602.2,315.7 604.9,316.6 606.8,314.8 609.5,318.4 612.2,322.0 614.9,322.9 617.6,322.0 620.3,320.2 623.0,320.2 625.7,318.1 628.4,320.2 631.1,319.3 633.8,322.0 636.5,320.2 639.2,319.3 641.9,318.4 644.6,319.3 647.3,314.8 649.1,313.0 650.9,315.7 652.7,319.3 654.5,322.0 657.2,322.9 659.0,328.4 660.8,333.8 662.3,340.1 663.5,331.1 664.8,319.3"/>
<polyline class="ln" stroke="#1aa3e8" stroke-width="1.3" points="399.4,316.5 402.1,316.5 403.4,317.2 404.8,311.8 406.5,311.1 408.2,311.8 410.2,306.4 411.9,305.1 413.3,305.1 414.6,309.8 416.3,315.2 418.3,317.9 419.6,319.9 421.0,318.6 423.0,317.9 425.1,317.9 427.1,318.6 429.1,315.9 430.9,312.5 432.5,312.5 433.8,315.9 435.5,319.2 437.2,319.9 439.0,320.6 440.3,323.3 441.9,321.3 444.0,323.3 446.0,321.9 448.0,321.9 450.1,321.3 452.1,321.9 454.1,321.3 456.1,322.6 458.2,324.0 460.2,323.3 462.2,321.9 464.2,321.9 466.3,321.3 468.3,323.3 470.1,321.3 471.4,318.6 473.7,319.0 475.7,317.9 477.8,319.9 479.8,319.2 481.8,321.3 483.8,321.3 486.7,323.3 488.8,321.3 490.8,319.9 492.8,319.9 494.8,317.9 496.2,312.5 498.2,310.5 500.2,305.1 502.3,305.1 504.3,307.1 506.3,311.1 508.4,312.5 510.4,309.8 512.4,309.1 514.4,308.4 516.5,311.1 518.5,313.8 520.5,309.1 522.5,308.4 524.6,305.1 526.6,303.7 529.3,303.7 530.6,307.8 532.7,309.1 534.7,312.5 536.7,315.2 538.1,315.9 540.1,312.5 542.1,311.8 544.2,311.1 545.8,309.8 546.9,312.5 548.9,311.8 550.9,311.8 552.3,315.2 553.6,307.1 555.0,305.1 556.1,301.7 557.0,309.8 558.4,313.8 560.1,315.2 561.7,312.5 563.8,312.5 565.8,313.2 567.8,312.5 569.8,312.5 570.7,313.0 572.5,311.2 574.3,312.1 576.1,310.3 577.4,302.2 579.2,301.3 581.5,304.0 584.2,306.7 586.9,305.8 588.7,304.0 591.4,303.1 593.2,304.0 595.9,303.1 598.3,299.5 600.4,301.3 603.1,303.1 604.9,299.5 607.7,303.1 610.4,300.4 613.1,303.1 614.9,300.4 616.3,296.8 618.5,300.4 621.2,303.1 623.9,301.3 626.6,299.5 629.3,300.4 632.0,301.3 633.8,303.1 636.1,301.3 638.3,304.9 640.1,306.7 641.9,302.2 643.7,304.9 645.9,307.6 647.3,303.1 648.7,298.6 650.9,300.4 652.7,294.1 654.2,299.5 656.3,300.4 657.2,309.4 658.1,317.5 659.9,324.8 661.7,321.1 663.5,318.4 664.8,313.0"/>
<polyline class="ln" stroke="#1f2c8a" stroke-width="1.3" points="399.4,303.0 400.7,301.7 402.1,299.0 403.4,302.4 404.8,303.7 406.1,307.8 408.2,309.8 409.5,307.8 411.5,311.1 412.9,313.8 414.9,319.2 416.9,321.9 418.3,317.2 419.6,314.5 421.0,313.2 422.4,317.2 424.4,319.9 426.0,319.2 427.8,317.9 429.1,315.9 430.5,318.6 432.2,319.9 433.8,319.2 435.5,321.3 437.2,322.6 439.0,317.2 440.6,313.2 442.6,309.1 444.0,308.4 446.0,309.8 447.4,309.1 448.7,311.8 450.7,314.5 452.8,316.5 455.5,316.5 456.8,313.8 457.9,307.1 458.8,302.4 460.9,301.0 462.5,299.6 463.6,302.4 464.9,306.4 466.3,306.4 467.6,302.4 469.0,301.0 471.0,304.4 473.0,306.4 475.1,304.4 476.8,303.0 477.5,300.3 478.4,304.4 480.5,306.4 482.5,307.8 484.5,307.8 487.4,307.8 488.8,304.4 490.8,305.7 492.8,306.4 494.8,307.8 496.9,310.5 498.9,311.1 500.2,309.1 501.6,307.8 503.6,310.5 505.6,312.5 507.0,313.8 509.0,309.8 511.1,309.8 512.4,308.4 514.4,309.1 515.8,307.8 517.8,310.5 519.8,311.8 521.9,313.2 523.9,315.9 525.9,317.9 527.9,318.6 530.0,317.2 532.0,317.2 534.0,317.9 536.1,319.2 538.1,319.9 540.1,321.9 542.1,323.3 543.9,327.4 545.5,324.0 546.9,324.0 548.5,327.4 550.2,324.6 552.3,324.0 554.3,323.3 556.3,324.0 558.4,322.6 560.4,324.0 562.4,324.6 564.4,322.6 566.5,320.6 568.5,319.9 570.5,319.2 571.6,321.1 573.4,319.3 575.2,322.0 577.9,323.9 580.6,324.8 583.3,323.9 586.0,322.9 588.7,321.1 590.5,323.9 593.2,326.6 595.9,328.4 598.6,329.3 600.4,330.2 602.2,328.4 604.0,326.6 606.8,328.4 609.5,326.6 612.2,325.7 614.9,326.6 617.6,324.8 620.3,328.4 623.0,327.5 625.7,327.1 628.4,328.4 631.1,328.9 633.8,328.4 636.5,330.2 639.2,329.6 641.9,331.1 643.7,330.2 645.5,334.7 647.3,339.2 649.1,338.3 651.3,341.9 653.6,342.8 656.0,342.8 657.8,346.4 659.6,351.8 660.8,357.2 661.7,360.3 663.5,359.0 664.8,358.5"/>
<polyline class="ln" stroke="#c00000" stroke-width="2.3" points="399.4,332.8 400.3,335.5 401.4,331.4 403.4,330.7 404.8,329.4 406.5,328.0 408.2,326.7 409.5,328.0 411.1,326.7 412.9,326.3 414.6,328.0 416.3,329.4 417.6,328.0 419.0,329.4 421.0,328.0 422.4,330.1 423.7,330.7 425.1,331.4 426.4,332.8 428.4,331.4"/>
<text class="a" x="386" y="280.8" text-anchor="end">0.8</text>
<text class="a" x="386" y="302.5" text-anchor="end">0.4</text>
<text class="a" x="386" y="324.0" text-anchor="end">0.0</text>
<text class="a" x="386" y="345.5" text-anchor="end">-0.4</text>
<text class="a" x="386" y="366.5" text-anchor="end">-0.8</text>
<text class="a" x="386" y="387.5" text-anchor="end">-1.2</text>
<text class="a" x="664.5" y="409" text-anchor="middle">0</text>
<text class="a" x="628.2" y="409" text-anchor="middle">50</text>
<text class="a" x="591.9" y="409" text-anchor="middle">100</text>
<text class="a" x="555.6" y="409" text-anchor="middle">150</text>
<text class="a" x="519.3" y="409" text-anchor="middle">200</text>
<text class="a" x="483.0" y="409" text-anchor="middle">250</text>
<text class="a" x="446.7" y="409" text-anchor="middle">300</text>
<text class="a" x="410.4" y="409" text-anchor="middle">350</text>
<text class="l" x="515" y="424" text-anchor="middle" style="font-size:12.3px">Days to Expiry</text>
<text class="t" x="365" y="255" textLength="82" lengthAdjust="spacingAndGlyphs">N/V - Spread</text>
<text class="a" x="403" y="272">c/lb</text>
<line x1="494.5" x2="519.7" y1="246.3" y2="246.3" stroke="#c5d928" stroke-width="1.35" stroke-linecap="round"/>
<text class="l" x="523" y="249.5">2022</text>
<line x1="579.5" x2="604.7" y1="246.3" y2="246.3" stroke="#1aa3e8" stroke-width="1.35" stroke-linecap="round"/>
<text class="l" x="608" y="249.5">2023</text>
<line x1="494.5" x2="519.7" y1="260.6" y2="260.6" stroke="#7ab929" stroke-width="1.35" stroke-linecap="round"/>
<text class="l" x="523" y="263.8">2024</text>
<line x1="579.5" x2="604.7" y1="260.6" y2="260.6" stroke="#1f2c8a" stroke-width="1.35" stroke-linecap="round"/>
<text class="l" x="608" y="263.8">2025</text>
<line x1="494.5" x2="519.7" y1="274.6" y2="274.6" stroke="#c00000" stroke-width="2.2" stroke-linecap="round"/>
<text class="l" x="523" y="277.8">2026</text>
</svg></body></html>
